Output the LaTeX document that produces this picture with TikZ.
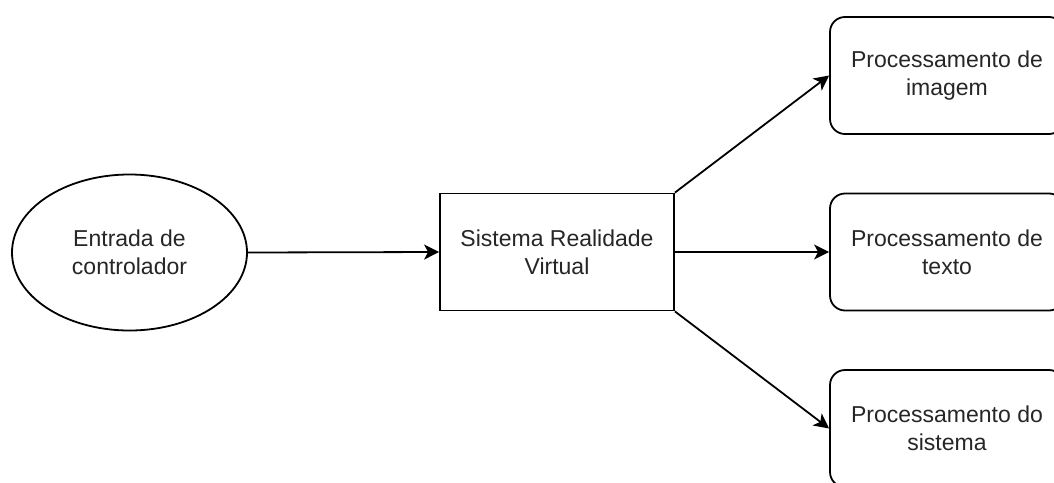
\documentclass[tikz,border=0pt]{standalone}
\usepackage{fontspec}
\setmainfont{Liberation Sans}
\usetikzlibrary{shapes.geometric,arrows.meta}
\begin{document}
\begin{tikzpicture}[x=1pt,y=-1pt,
  base/.style={draw=black, line width=1.8pt, align=center, inner sep=0pt,
    font=\fontsize{23}{28}\selectfont, text=black!85},
  oval/.style={base, ellipse, minimum width=235pt, minimum height=156pt},
  sysbox/.style={base, rectangle, minimum width=234pt, minimum height=117pt},
  procbox/.style={base, rectangle, rounded corners=15pt, minimum width=234pt, minimum height=117pt},
  conn/.style={line width=1.8pt, -{Stealth[length=15pt, width=15pt, inset=4pt]}}
]
\clip (0,0) rectangle (1054,482);
\fill[white] (0,0) rectangle (1054,482);
\node[oval] (in) at (129.5,252.5) {Entrada de\\controlador};
\node[sysbox] (sys) at (557,252) {Sistema Realidade\\Virtual};
\node[procbox] (img) at (947,75.5) {Processamento de\\imagem};
\node[procbox] (txt) at (947,252) {Processamento de\\texto};
\node[procbox] (sis) at (947,428.5) {Processamento do\\sistema};
\draw[conn] (in.east) -- (sys.west);
\draw[conn] (sys.north east) -- (img.west);
\draw[conn] (sys.east) -- (txt.west);
\draw[conn] (sys.south east) -- (sis.west);
\end{tikzpicture}
\end{document}
